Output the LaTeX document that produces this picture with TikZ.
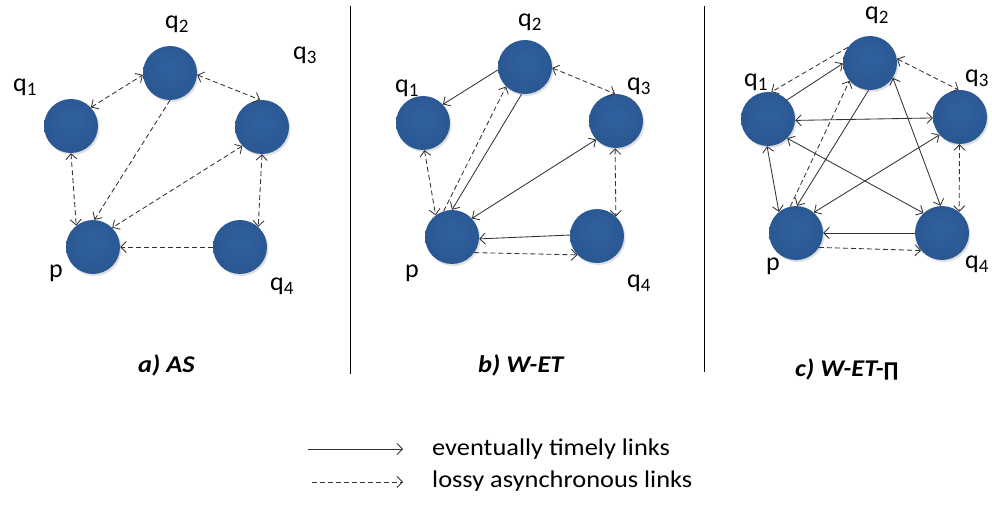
\documentclass[tikz,border=0pt]{standalone}
\usepackage{fontspec}
\setmainfont{Carlito}
\newfontfamily\symfont{DejaVu Sans}
\newfontfamily\widefont{Carlito}[FakeStretch=1.1]
\usetikzlibrary{arrows.meta,shadows}

\definecolor{ballhi}{HTML}{3061A0}
\definecolor{ballmid}{HTML}{295690}
\definecolor{ballrim}{HTML}{1B3E6B}
\definecolor{linegray}{HTML}{333333}

% soft blue sphere used for every process
\pgfdeclareradialshading{sphere}{\pgfpoint{0bp}{4bp}}{%
  color(0bp)=(ballhi); color(30bp)=(ballmid); color(48bp)=(ballrim); color(70bp)=(ballrim)}

\newcommand\qlab[1]{q\raisebox{-4pt}{\fontsize{19}{19}\selectfont #1}}

\begin{document}
\begin{tikzpicture}[x=1pt,y=-1pt,
  >={Straight Barb[length=5.5pt,width=11pt]},
  ball/.style={circle, minimum size=54pt, inner sep=0pt, shading=sphere,
    drop shadow={shadow xshift=1.5pt, shadow yshift=-2pt, opacity=0.25}},
  timely/.style={draw=linegray, line width=0.85pt},
  lossy/.style={draw=linegray, line width=0.85pt, dash pattern=on 5pt off 3pt},
  lbl/.style={anchor=base west, inner sep=0pt, font=\fontsize{26}{30}\selectfont},
  caption/.style={anchor=base west, inner sep=0pt, font=\widefont\fontsize{24}{28}\selectfont\bfseries\itshape},
  legendtext/.style={anchor=base west, inner sep=0pt, font=\widefont\fontsize{24}{28}\selectfont},
  divider/.style={draw=black, line width=0.9pt}]
\useasboundingbox (0,0) rectangle (992,505);

% ---------- a) AS ----------
\node[ball] (a-q1) at (71,126) {};
\node[ball] (a-q2) at (170,73) {};
\node[ball] (a-q3) at (262,127) {};
\node[ball] (a-p)  at (93,247) {};
\node[ball] (a-q4) at (240,247) {};
\node[lbl] (a-l1) at (13,92)  {\qlab{1}};
\node[lbl] (a-l2) at (165,29) {\qlab{2}};
\node[lbl] (a-l3) at (293,60) {\qlab{3}};
\node[lbl] (a-lp) at (49,277) {p};
\node[lbl] (a-l4) at (270,290) {\qlab{4}};

\draw[lossy,<->] (a-q1.43) -- (a-q2.184);
\draw[lossy,<->] (a-q2.356) -- (a-q3.94);
\draw[lossy,->]  (a-q2.270) -- (a-p.87);
\draw[lossy,<->] (a-q3.224) -- (a-p.45);
\draw[lossy,<->] (a-q1.270) -- (a-p.128);
\draw[lossy,<->] (a-q3.270) -- (a-q4.48);
\draw[lossy,->]  (a-q4.180) -- (a-p.0);

% ---------- b) W-ET ----------
\node[ball] (b-q1) at (423,123) {};
\node[ball] (b-q2) at (525,67) {};
\node[ball] (b-q3) at (616,121) {};
\node[ball] (b-p)  at (452,237) {};
\node[ball] (b-q4) at (597,236) {};
\node[lbl] (b-l1) at (395,93)  {\qlab{1}};
\node[lbl] (b-l2) at (518,27)  {\qlab{2}};
\node[lbl] (b-l3) at (627,91)  {\qlab{3}};
\node[lbl] (b-lp) at (405,277) {p};
\node[lbl] (b-l4) at (627,287) {\qlab{4}};

\draw[timely,->]  (b-q2.186) -- (b-q1.43);
\draw[lossy,<->]  (b-q2.358) -- (b-q3.92);
\draw[lossy,<->]  (b-q1.273) -- (b-p.127);
\draw[lossy,->]   (b-p.108) -- (b-q2.226);
\draw[timely,->]  (b-q2.263) -- (b-p.90);
\draw[timely,<->] (b-q3.223) -- (b-p.43);
\draw[lossy,<->]  (b-q3.268) -- (b-q4.46);
\draw[timely,->]  (b-q4.178) -- (b-p.356);
\draw[lossy,->]   (b-p.325) -- (b-q4.224);

% ---------- c) W-ET-Pi ----------
\node[ball] (c-q1) at (768,119) {};
\node[ball] (c-q2) at (870,63) {};
\node[ball] (c-q3) at (960,117) {};
\node[ball] (c-p)  at (796,233) {};
\node[ball] (c-q4) at (942,233) {};
\node[lbl] (c-l1) at (744,87)  {\qlab{1}};
\node[lbl] (c-l2) at (865,20)  {\qlab{2}};
\node[lbl] (c-l3) at (965,83)  {\qlab{3}};
\node[lbl] (c-lp) at (766,270) {p};
\node[lbl] (c-l4) at (965,268) {\qlab{4}};

\draw[lossy,->]   (c-q2.145) -- (c-q1.83);
\draw[timely,->]  (c-q1.45) -- (c-q2.181);
\draw[lossy,<->]  (c-q2.9) -- (c-q3.93);
\draw[timely,<->] (c-q1.357) -- (c-q3.182);
\draw[timely,<->] (c-q1.315) -- (c-q4.133);
\draw[timely,<->] (c-q2.327) -- (c-q4.93);
\draw[timely,->]  (c-q2.267) -- (c-p.88);
\draw[lossy,->]   (c-p.102) -- (c-q2.221);
\draw[timely,<->] (c-q1.268) -- (c-p.129);
\draw[timely,<->] (c-q3.221) -- (c-p.49);
\draw[lossy,<->]  (c-q3.269) -- (c-q4.51);
\draw[timely,->]  (c-q4.180) -- (c-p.0);
\draw[lossy,->]   (c-p.328) -- (c-q4.220);

% ---------- separators and captions ----------
\coordinate (d1t) at (350,6);
\coordinate (d1b) at (350,374);
\coordinate (d2t) at (704,6);
\coordinate (d2b) at (704,372);
\draw[divider] (d1t) -- (d1b);
\draw[divider] (d2t) -- (d2b);

\node[caption] (cap-a) at (138,372) {a) AS};
\node[caption] (cap-b) at (478,372) {b) W-ET};
\node[caption] (cap-c) at (795,376) {c) W-ET-{\symfont\bfseries\itshape\fontsize{19}{24}\selectfont ∏}};

% ---------- legend ----------
\coordinate (lg1s) at (308,449);
\coordinate (lg1e) at (403,449);
\coordinate (lg2s) at (312,482);
\coordinate (lg2e) at (403,482);
\draw[timely,->] (lg1s) -- (lg1e);
\draw[lossy,->]  (lg2s) -- (lg2e);
\node[legendtext] (lg1t) at (432,455) {eventually timely links};
\node[legendtext] (lg2t) at (432,487) {lossy asynchronous links};
\end{tikzpicture}
\end{document}
